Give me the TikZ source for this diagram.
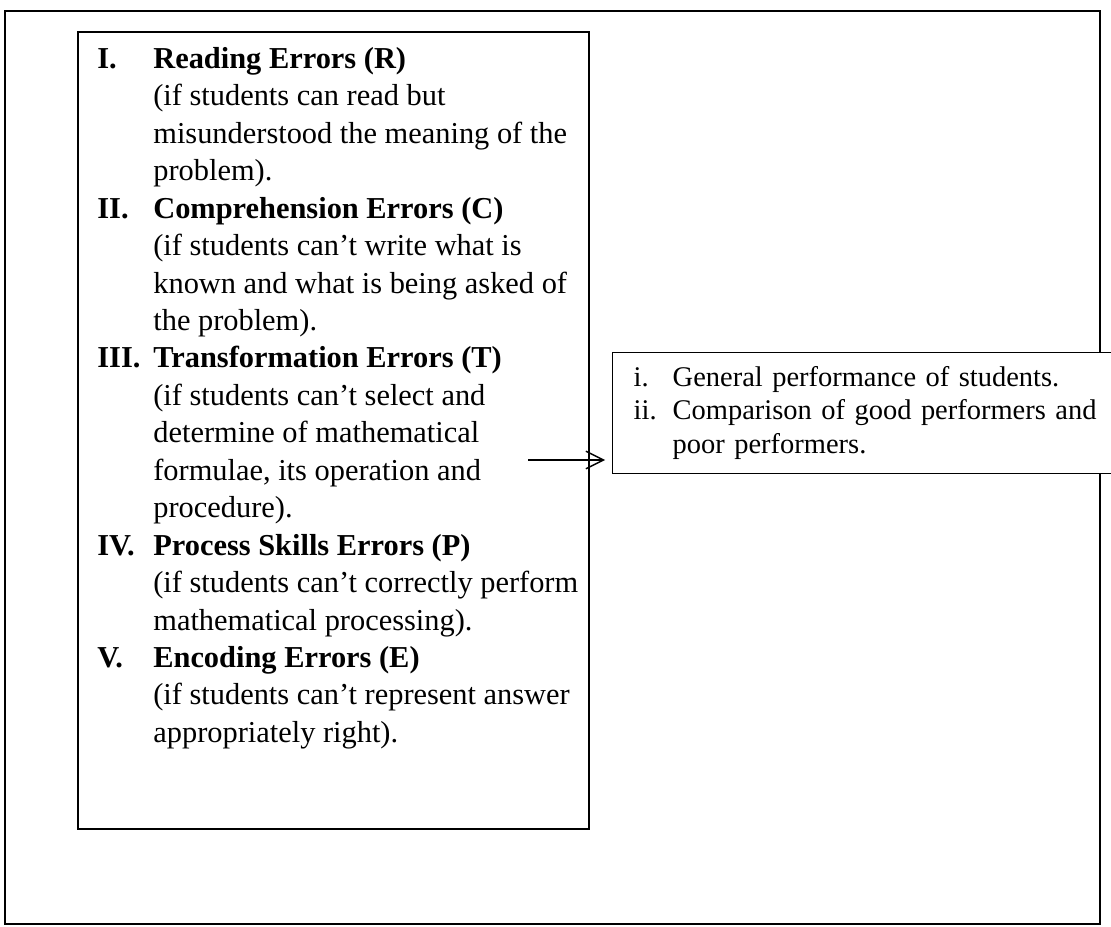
\documentclass[tikz,border=0pt]{standalone}
\usepackage{fontspec}
\setmainfont{Liberation Serif}
\usetikzlibrary{arrows.meta,positioning}

\definecolor{inkblack}{HTML}{000000}
\tikzset{
  outerframe/.style={draw=inkblack, line width=1.4pt},
  panel/.style={
    rectangle, draw=inkblack, fill=white,
    inner sep=0pt, line width=0.9pt
  },
  listtext/.style={
    inner sep=0pt, align=left,
    font=\fontsize{17.3}{21.3}\selectfont
  },
  goalbox/.style={
    rectangle, draw=inkblack, fill=white,
    text width=9.3cm, align=left,
    inner xsep=0.42cm, inner ysep=0pt,
    minimum height=2.42cm, line width=0.8pt,
    font=\fontsize{16.2}{19.3}\selectfont
  },
  arrow/.style={-{Straight Barb[length=10pt,width=10pt]}, line width=0.8pt, inkblack}
}

\begin{document}
\begin{tikzpicture}

  \useasboundingbox (0,0) rectangle (22.22,18.52);

  % Outer frame
  \draw[outerframe] (0.10,0.04) rectangle (22.00,18.30);

  % Error types panel
  \node[panel, minimum width=10.22cm, minimum height=15.94cm,
        anchor=north west] (errorbox) at (1.54,17.90) {};
  \node[listtext, below right=0.22cm and 0.4cm of errorbox.north west]
    (errorlist)
    {\begin{tabular}{@{}p{1.12cm}@{}l@{}}
     \textbf{I.}   & \textbf{Reading Errors (R)}\\
                   & (if students can read but\\
                   & misunderstood the meaning of the\\
                   & problem).\\
     \textbf{II.}  & \textbf{Comprehension Errors (C)}\\
                   & (if students can't write what is\\
                   & known and what is being asked of\\
                   & the problem).\\
     \textbf{III.} & \textbf{Transformation Errors (T)}\\
                   & (if students can't select and\\
                   & determine of mathematical\\
                   & formulae, its operation and\\
                   & procedure).\\
     \textbf{IV.}  & \textbf{Process Skills Errors (P)}\\
                   & (if students can't correctly perform\\
                   & mathematical processing).\\
     \textbf{V.}   & \textbf{Encoding Errors (E)}\\
                   & (if students can't represent answer\\
                   & appropriately right).
     \end{tabular}};

  % Performance box
  \node[goalbox, anchor=north west] (goals) at (12.24,11.48)
    {\begin{tabular}{@{}p{0.78cm}@{}l@{}}
     i.  & General performance of students.\\
     ii. & Comparison of good performers and\\
         & poor performers.
     \end{tabular}};

  % Arrow
  \coordinate (arrowstart) at (10.56,9.32);
  \draw[arrow, shorten >=0.14cm] (arrowstart) -- (arrowstart -| goals.west);

\end{tikzpicture}
\end{document}
